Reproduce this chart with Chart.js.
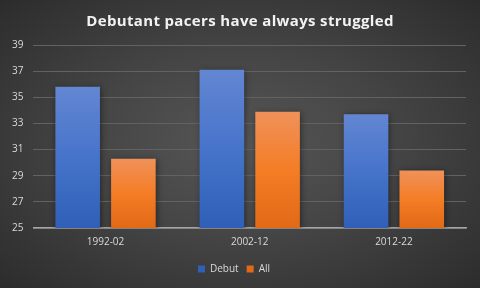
<!DOCTYPE html>
<html>
<head>
<meta charset="utf-8">
<script src="https://cdn.jsdelivr.net/npm/chart.js@4"></script>
<style>
  html, body { margin: 0; padding: 0; }
  body {
    width: 480px; height: 288px; overflow: hidden;
    background: radial-gradient(ellipse at 50% 50%, #565656 0%, #454545 45%, #2c2c2c 100%);
  }
  #wrap { width: 480px; height: 288px; position: relative; }
</style>
</head>
<body>
<div id="wrap"><canvas id="chart"></canvas></div>
<script>
const categories = ["1992-02", "2002-12", "2012-22"];
const debutValues = [35.8, 37.1, 33.7];
const allValues = [30.3, 33.9, 29.4];
const yTicks = [25, 27, 29, 31, 33, 35, 37, 39];

const FONT = "'Open Sans', 'Noto Sans', sans-serif";

function barGradient(top, bottom) {
  return function (context) {
    const chart = context.chart;
    const area = chart.chartArea;
    if (!area || context.raw == null) return bottom;
    const y = chart.scales.y.getPixelForValue(context.raw);
    const g = chart.ctx.createLinearGradient(0, y, 0, area.bottom);
    g.addColorStop(0, top[0]);
    g.addColorStop(0.5, top[1]);
    g.addColorStop(1, bottom);
    return g;
  };
}

// soft drop shadow under bars, like the original
const shadowPlugin = {
  id: "barShadow",
  beforeDatasetsDraw(chart) {
    const c = chart.ctx;
    c.save();
    c.shadowColor = "rgba(0,0,0,0.45)";
    c.shadowBlur = 6;
    c.shadowOffsetX = 1;
    c.shadowOffsetY = 1;
  },
  afterDatasetsDraw(chart) {
    chart.ctx.restore();
  }
};

// title in the original is tracked a little wider
const titleLetters = {
  id: "titleLetters",
  beforeDraw(chart) {
    const title = chart.titleBlock;
    if (title && !title._spaced) {
      const orig = title.draw.bind(title);
      title.draw = function () {
        const c = chart.ctx;
        c.save();
        c.letterSpacing = "0.35px";
        c.translate(6, 0); // re-centre after the extra tracking
        orig();
        c.restore();
      };
      title._spaced = true;
    }
  }
};

new Chart(document.getElementById("chart"), {
  type: "bar",
  data: {
    labels: categories,
    datasets: [
      {
        label: "Debut",
        data: debutValues,
        backgroundColor: barGradient(["#6386d2", "#4674cb"], "#2f5fb7"),
        categoryPercentage: 0.773,
        barPercentage: 0.8
      },
      {
        label: "All",
        data: allValues,
        backgroundColor: barGradient(["#f0915a", "#f47d26"], "#e26916"),
        categoryPercentage: 0.773,
        barPercentage: 0.8
      }
    ]
  },
  options: {
    responsive: true,
    maintainAspectRatio: false,
    animation: false,
    layout: { padding: { left: 2, right: 14, top: 8, bottom: 4 } },
    plugins: {
      title: {
        display: true,
        text: "Debutant pacers have always struggled",
        color: "#f2f2f2",
        font: { family: FONT, size: 15, weight: "bold" },
        padding: { top: 5, bottom: 14 }
      },
      legend: {
        position: "bottom",
        labels: {
          color: "#d9d9d9",
          font: { family: FONT, size: 10 },
          boxWidth: 7,
          boxHeight: 7,
          padding: 8
        }
      },
      tooltip: { enabled: false }
    },
    scales: {
      x: {
        grid: { display: false, drawTicks: false },
        border: { color: "#a6a6a6", width: 1.5 },
        ticks: { color: "#d9d9d9", font: { family: FONT, size: 10 }, padding: 8 }
      },
      y: {
        min: 25,
        max: 39,
        afterBuildTicks(axis) {
          axis.ticks = yTicks.map(v => ({ value: v }));
        },
        grid: { color: "#626262", lineWidth: 1, drawTicks: false },
        border: { display: false },
        ticks: { color: "#d9d9d9", font: { family: FONT, size: 10 }, padding: 10 }
      }
    }
  },
  plugins: [shadowPlugin, titleLetters]
});
</script>
</body>
</html>
